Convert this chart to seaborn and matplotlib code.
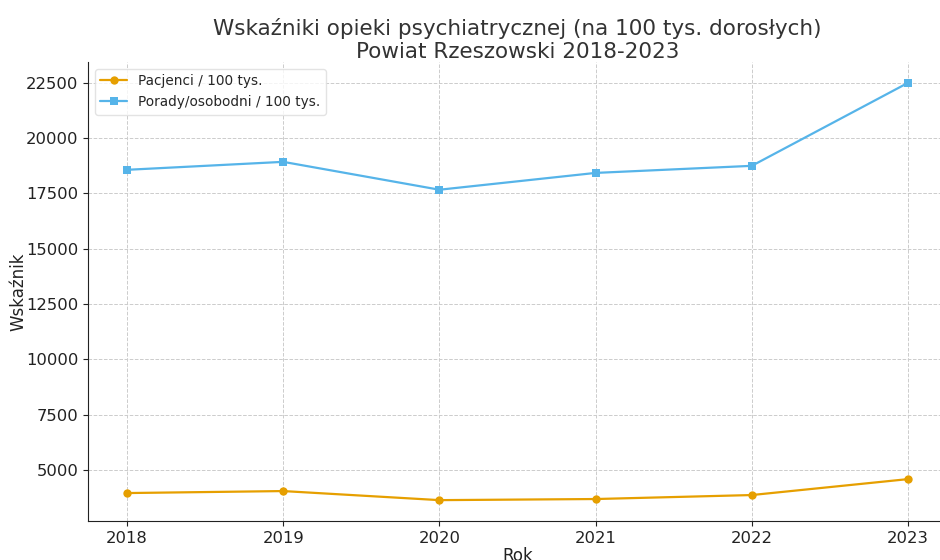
import matplotlib
matplotlib.use("Agg")
import matplotlib.pyplot as plt
import seaborn as sns
import pandas as pd

years = [2018, 2019, 2020, 2021, 2022, 2023]
pacjenci = [3960, 4050, 3640, 3690, 3870, 4590]
porady = [18570, 18930, 17670, 18430, 18750, 22500]
series_names = ["Pacjenci / 100 tys.", "Porady/osobodni / 100 tys."]
colors = ["#E69F00", "#56B4E9"]
markers = ["o", "s"]

sns.set_style("ticks")
plt.rcParams['font.family'] = ['DejaVu Sans']

df = pd.DataFrame({
    "Rok": years * 2,
    "value": pacjenci + porady,
    "series": [series_names[0]] * len(years) + [series_names[1]] * len(years),
})

fig = plt.figure(figsize=(9.4, 5.6), dpi=100)
ax = fig.add_axes([88/940, 39/560, 859/940, 459/560])

sns.lineplot(data=df, x="Rok", y="value", hue="series", style="series",
             palette=colors, markers=markers, dashes=False, markersize=6,
             markeredgewidth=0, linewidth=1.6, ax=ax)

ax.set_xticks(years)
ax.set_xticklabels([str(y) for y in years])
ax.grid(True, linestyle="--", color="#cccccc", linewidth=0.7)
ax.set_axisbelow(True)
for s in ["top", "right"]:
    ax.spines[s].set_visible(False)
ax.spines["left"].set_color("#222222")
ax.spines["bottom"].set_color("#222222")
ax.tick_params(labelsize=11.8, colors="#222222")
ax.set_xlabel("Rok", fontsize=12, color="#222222", labelpad=1)
ax.set_ylabel("Wskaźnik", fontsize=12, color="#222222", labelpad=-1)
ax.set_title("Wskaźniki opieki psychiatrycznej (na 100 tys. dorosłych)\nPowiat Rzeszowski 2018-2023",
             fontsize=15.5, color="#333333", pad=3)
leg = ax.legend(loc="upper left", fontsize=9.8, frameon=True)
leg.get_frame().set_edgecolor("#dddddd")

fig.savefig("out.png", dpi=100)
